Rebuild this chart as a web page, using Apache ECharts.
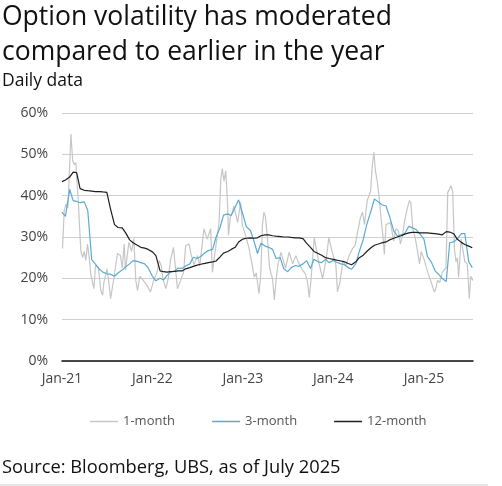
<!DOCTYPE html>
<html>
<head>
<meta charset="utf-8">
<script src="https://cdn.jsdelivr.net/npm/echarts@6/dist/echarts.min.js"></script>
<style>
html,body{margin:0;padding:0;background:#fff;}
#chart{width:502px;height:486px;}
</style>
</head>
<body>
<div id="chart"></div>
<script>
// ---------- DATA ----------
const seriesNames = ['1-month', '3-month', '12-month'];
const yTicks = [0, 10, 20, 30, 40, 50, 60];
const xRange = ['2021-01-01', '2025-07-18'];
const xTickDates = ['2021-01-01', '2022-01-01', '2023-01-01', '2024-01-01', '2025-01-01'];
const xTickLabels = ['Jan-21', 'Jan-22', 'Jan-23', 'Jan-24', 'Jan-25'];

// 1-month implied volatility (%), key turning points
const oneMonthDates = [
 '2021-01-03','2021-01-10','2021-01-17','2021-01-25','2021-02-06','2021-02-13','2021-02-20','2021-02-26','2021-03-02','2021-03-07',
 '2021-03-11','2021-03-18','2021-03-25','2021-04-01','2021-04-07','2021-04-14','2021-04-21','2021-04-27','2021-05-04','2021-05-10',
 '2021-05-16','2021-05-28','2021-06-07','2021-06-14','2021-06-19','2021-07-02','2021-07-09','2021-07-16','2021-07-29','2021-08-13',
 '2021-08-25','2021-09-01','2021-09-09','2021-09-14','2021-09-28','2021-10-09','2021-10-18','2021-10-26','2021-11-02','2021-11-11',
 '2021-11-25','2021-12-10','2021-12-24','2022-01-01','2022-01-06','2022-01-20','2022-01-28','2022-02-06','2022-02-12','2022-02-24',
 '2022-03-06','2022-03-16','2022-03-27','2022-04-03','2022-04-12','2022-04-25','2022-05-07','2022-05-15','2022-05-29','2022-06-07',
 '2022-06-18','2022-07-02','2022-07-11','2022-07-22','2022-07-28','2022-08-10','2022-08-24','2022-08-31','2022-09-07','2022-09-20',
 '2022-09-27','2022-10-04','2022-10-10','2022-10-17','2022-10-24','2022-10-31','2022-11-04','2022-11-11','2022-11-20','2022-11-26',
 '2022-12-03','2022-12-11','2022-12-23','2022-12-30','2023-01-12','2023-01-26','2023-02-08','2023-02-16','2023-02-24','2023-03-07',
 '2023-03-14','2023-03-21','2023-03-27','2023-04-02','2023-04-10','2023-04-18','2023-04-25','2023-05-01','2023-05-08','2023-05-15',
 '2023-05-23','2023-06-04','2023-06-10','2023-06-22','2023-07-07','2023-07-21','2023-08-03','2023-08-16','2023-08-30','2023-09-11',
 '2023-09-19','2023-09-26','2023-10-03','2023-10-16','2023-10-23','2023-11-05','2023-11-19','2023-12-03','2023-12-14','2023-12-27',
 '2024-01-11','2024-01-18','2024-01-28','2024-02-09','2024-02-21','2024-03-05','2024-03-19','2024-03-29','2024-04-07','2024-04-20',
 '2024-04-28','2024-05-06','2024-05-17','2024-05-25','2024-05-31','2024-06-06','2024-06-13','2024-06-19','2024-06-26','2024-07-03',
 '2024-07-12','2024-07-19','2024-07-25','2024-08-01','2024-08-08','2024-08-19','2024-09-01','2024-09-10','2024-09-20','2024-09-28',
 '2024-10-07','2024-10-14','2024-10-24','2024-11-03','2024-11-09','2024-11-17','2024-11-26','2024-12-07','2024-12-14','2024-12-21',
 '2025-01-03','2025-01-16','2025-01-30','2025-02-12','2025-02-18','2025-02-25','2025-03-06','2025-03-16','2025-03-31','2025-04-07',
 '2025-04-14','2025-04-20','2025-04-27','2025-05-04','2025-05-10','2025-05-16','2025-05-21','2025-05-31','2025-06-07','2025-06-15',
 '2025-06-25','2025-07-03','2025-07-09','2025-07-17'
];
const oneMonthValues = [
 27.2,36.4,38.0,37.0,54.9,48.5,47.5,48.0,43.6,39.6,
 34.8,26.7,25.0,26.5,24.3,28.3,25.0,21.1,19.1,17.5,
 23.1,22.5,17.0,15.9,19.0,22.3,19.0,15.1,19.9,26.0,
 25.5,22.5,28.3,22.0,28.7,26.5,29.6,19.5,17.0,20.5,
 19.5,18.3,16.7,17.0,19.5,21.5,24.3,23.0,20.0,17.5,
 20.0,24.7,27.5,23.0,17.5,19.5,21.5,27.9,28.3,25.5,
 23.3,25.5,23.0,28.7,32.0,29.5,32.0,21.5,24.7,30.4,
 33.6,44.0,46.5,43.5,46.0,38.4,30.4,34.7,36.0,37.5,
 37.6,33.5,38.4,32.8,30.4,27.2,23.1,20.3,21.3,16.3,
 20.5,32.8,36.0,35.0,30.0,23.1,21.0,19.9,14.8,19.5,
 23.5,26.3,25.0,22.5,26.3,23.5,25.5,23.5,22.0,21.0,
 19.1,15.4,19.5,29.8,29.5,23.5,19.9,24.5,29.8,26.5,
 23.5,16.7,19.0,24.3,23.1,25.5,27.2,28.0,30.8,34.8,
 36.0,33.0,38.8,39.2,41.2,46.9,50.5,46.1,43.6,40.4,
 34.4,30.5,25.8,33.0,32.8,33.5,29.0,32.0,31.5,28.3,
 30.5,33.6,36.5,38.8,38.3,32.0,30.0,26.3,23.5,26.5,
 24.3,21.5,19.1,16.7,17.5,19.5,19.0,21.5,22.5,40.8,
 41.6,42.4,41.0,27.2,24.0,25.0,20.3,29.5,27.0,24.0,
 23.5,15.1,20.5,19.5
];

// 3-month and 12-month implied volatility (%), read at the 1st and 15th of each month
const threeMonthValues = [
 36.0,35.0,41.5,38.8,38.6,38.3,38.5,36.4,24.5,23.5,
 22.2,21.5,21.1,21.0,20.5,21.3,22.0,22.8,23.5,24.3,
 24.1,23.8,23.5,22.5,20.5,19.4,20.0,19.6,20.7,21.5,
 21.8,22.5,22.4,23.0,23.5,25.1,24.8,25.3,26.2,26.7,
 27.0,30.0,32.3,35.3,35.6,35.2,37.2,39.0,35.5,32.5,
 31.5,29.0,26.0,28.5,27.8,27.5,27.0,24.8,25.0,22.3,
 21.6,22.6,23.1,22.9,23.5,24.3,22.4,24.6,24.0,23.8,
 24.6,23.8,24.3,23.9,23.5,23.3,22.6,22.2,23.5,26.5,
 29.4,33.0,36.3,39.2,38.5,37.8,37.5,35.0,31.5,30.3,
 30.5,30.8,32.6,32.2,31.8,30.8,29.5,25.3,23.8,21.8,
 21.0,20.0,19.2,28.6,28.8,29.5,30.8,30.8,24.0,22.6
];
const twelveMonthValues = [
 43.4,43.8,44.5,45.7,45.6,41.7,41.3,41.2,41.1,41.0,
 41.0,40.9,40.8,37.0,33.0,32.3,32.2,31.0,29.3,28.6,
 28.0,27.5,27.3,27.0,26.4,25.5,21.8,21.6,21.5,21.6,
 21.7,21.8,21.8,22.3,22.6,22.9,23.2,23.4,23.6,23.8,
 24.0,24.2,25.2,26.1,26.5,27.0,27.5,28.8,29.5,29.7,
 29.8,29.7,29.8,30.3,30.5,30.5,30.3,30.2,30.1,30.0,
 30.0,29.9,29.8,29.8,29.6,28.5,27.5,26.5,26.0,25.6,
 25.0,24.8,24.6,24.4,24.2,24.0,23.6,23.3,24.0,25.0,
 25.6,26.5,27.4,28.0,28.3,28.6,28.8,29.3,29.7,30.0,
 30.3,30.7,31.0,31.1,31.1,31.0,31.0,31.0,30.9,30.8,
 30.7,30.5,31.3,31.2,30.8,29.5,28.7,28.2,27.8,27.4
];

// semi-monthly observation dates (1st and 15th) for the 3- and 12-month series
const halfMonthDates = [];
for (let y = 2021; y <= 2025; y++) {
  for (let m = 1; m <= 12; m++) {
    if (y === 2025 && m > 7) break;
    const mm = (m < 10 ? '0' : '') + m;
    halfMonthDates.push(y + '-' + mm + '-01');
    halfMonthDates.push(y + '-' + mm + '-15');
  }
}

// ---------- CHART ----------
const ts = s => +echarts.number.parseDate(s);
const pair = (ds, vs) => ds.map((d, i) => [ts(d), vs[i]]);
const tickTs = xTickDates.map(ts);
const colors = ['#c6c6c6', '#5aaad8', '#1e1e1e'];
const font = '"Open Sans", "Noto Sans", sans-serif';

const chart = echarts.init(document.getElementById('chart'), null, {renderer: 'canvas'});
chart.setOption({
  backgroundColor: '#ffffff',
  animation: false,
  title: [
    {text: 'Option volatility has moderated\ncompared to earlier in the year', left: 2, top: 0, padding: 0,
     textStyle: {fontFamily: font, fontSize: 26.5, fontWeight: 'normal', color: '#111', lineHeight: 35}},
    {text: 'Daily data', left: 2, top: 72, padding: 0,
     textStyle: {fontFamily: font, fontSize: 17.5, fontWeight: 'normal', color: '#111'}},
    {text: 'Source: Bloomberg, UBS, as of July 2025', left: 2, top: 459, padding: 0,
     textStyle: {fontFamily: font, fontSize: 18.3, fontWeight: 'normal', color: '#111'}}
  ],
  graphic: [
    {type: 'line', shape: {x1: 0, y1: 485, x2: 488, y2: 485}, style: {stroke: '#cccccc', lineWidth: 1}}
  ],
  legend: {
    data: seriesNames, bottom: 58, left: 90, padding: 0, itemGap: 37, itemWidth: 28, itemHeight: 1.5,
    icon: 'rect',
    textStyle: {fontFamily: font, fontSize: 13, color: '#555'}
  },
  grid: {left: 62, right: 29, top: 113, bottom: 125, containLabel: false},
  xAxis: {
    type: 'value', min: ts(xRange[0]), max: ts(xRange[1]),
    axisLine: {show: true, onZero: false, lineStyle: {color: '#111', width: 1.5}},
    axisTick: {show: false},
    splitLine: {show: false},
    axisLabel: {
      customValues: tickTs, color: '#444', fontFamily: font, fontSize: 14, margin: 11,
      formatter: v => { const i = tickTs.indexOf(v); return i >= 0 ? xTickLabels[i] : ''; }
    }
  },
  yAxis: {
    type: 'value', min: yTicks[0], max: yTicks[yTicks.length - 1], interval: 10,
    axisLine: {show: false}, axisTick: {show: false},
    splitLine: {lineStyle: {color: '#d0d0d0', width: 1}},
    axisLabel: {formatter: '{value}%', color: '#444', fontFamily: font, fontSize: 14, margin: 14}
  },
  series: [
    {name: seriesNames[0], type: 'line', data: pair(oneMonthDates, oneMonthValues), showSymbol: false,
     lineStyle: {color: colors[0], width: 1.2}, itemStyle: {color: colors[0]}, z: 2},
    {name: seriesNames[1], type: 'line', data: pair(halfMonthDates, threeMonthValues), showSymbol: false,
     lineStyle: {color: colors[1], width: 1.2}, itemStyle: {color: colors[1]}, z: 3},
    {name: seriesNames[2], type: 'line', data: pair(halfMonthDates, twelveMonthValues), showSymbol: false,
     lineStyle: {color: colors[2], width: 1.2}, itemStyle: {color: colors[2]}, z: 4}
  ]
});
</script>
</body>
</html>
